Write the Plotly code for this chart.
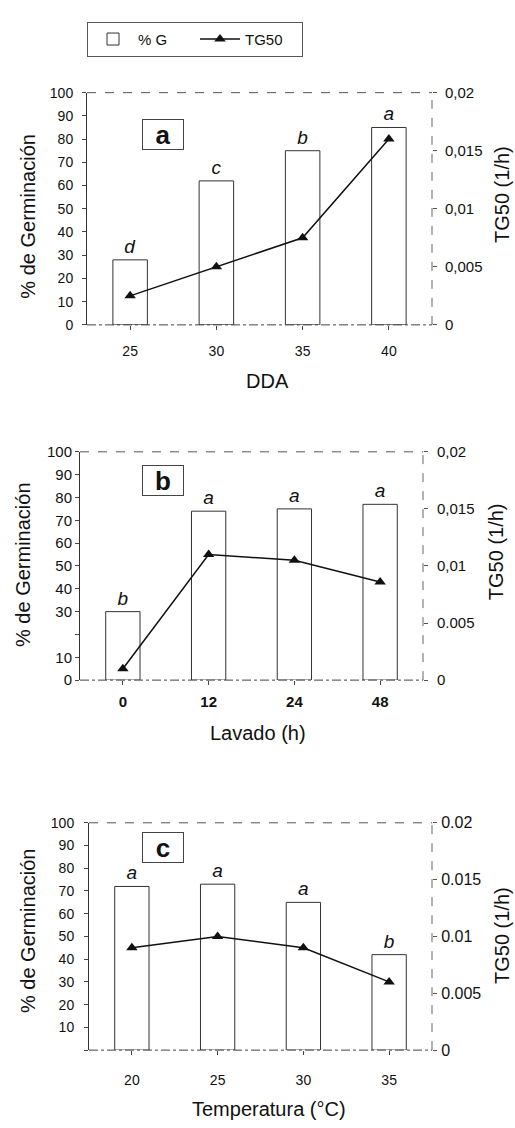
import plotly.graph_objects as go

W, H = 515, 1128

# ---------------- data ----------------
a_cats = ["25", "30", "35", "40"]
a_germ = [28, 62, 75, 85]
a_tg50 = [0.0025, 0.005, 0.0075, 0.016]
a_letters = ["d", "c", "b", "a"]

b_cats = ["0", "12", "24", "48"]
b_germ = [30, 74, 75, 77]
b_tg50 = [0.001, 0.011, 0.0105, 0.0086]
b_letters = ["b", "a", "a", "a"]

c_cats = ["20", "25", "30", "35"]
c_germ = [72, 73, 65, 42]
c_tg50 = [0.009, 0.010, 0.009, 0.006]
c_letters = ["a", "a", "a", "b"]

left_vals = [0, 10, 20, 30, 40, 50, 60, 70, 80, 90, 100]
a_left_text = ["0", "10", "20", "30", "40", "50", "60", "70", "80", "90", "100"]
b_left_text = ["0", "10", "", "30", "40", "50", "60", "70", "80", "90", "100"]
c_left_text = ["", "10", "20", "30", "40", "50", "60", "70", "80", "90", "100"]

right_vals = [0, 0.005, 0.01, 0.015, 0.02]
a_right_text = ["0", "0,005", "0,01", "0,015", "0,02"]
b_right_text = ["0", "0.005", "0,01", "0,015", "0,02"]
c_right_text = ["0", "0.005", "0.01", "0.015", "0.02"]

x_titles = ["DDA", "Lavado (h)", "Temperatura (°C)"]
panel_labels = ["a", "b", "c"]

FONT = "Liberation Sans, Arial, sans-serif"

def fx(p):
    return p / W

def fy(p):
    return 1 - p / H

# panel geometry in pixels (left, right, top, bottom)
panels = [
    dict(cats=a_cats, germ=a_germ, tg=a_tg50, let=a_letters, lt=a_left_text, rt=a_right_text,
         box=(87, 432, 85, 321), xlab_s=9, xfont=14, xbold=False, lfont=14, ls=6, rfont=15, rs=5,
         xtitle=(267, 378), ytitle=(28, 211), rtitle=(502, 189), plab=(163, 128)),
    dict(cats=b_cats, germ=b_germ, tg=b_tg50, let=b_letters, lt=b_left_text, rt=b_right_text,
         box=(80, 423, 450, 682), xlab_s=4, xfont=15, xbold=True, lfont=15, ls=0, rfont=15, rs=6,
         xtitle=(258, 736), ytitle=(23, 565), rtitle=(496, 552), plab=(163, 479)),
    dict(cats=c_cats, germ=c_germ, tg=c_tg50, let=c_letters, lt=c_left_text, rt=c_right_text,
         box=(89, 432, 827, 1058), xlab_s=13, xfont=14, xbold=False, lfont=14, ls=7, rfont=16, rs=1,
         xtitle=(269, 1118), ytitle=(28, 937), rtitle=(502, 942), plab=(163, 852)),
]

fig = go.Figure()
shapes = []
annotations = []
layout_axes = {}

for i, p in enumerate(panels):
    xn = "" if i == 0 else str(i + 1)
    yl = str(2 * i + 1) if i > 0 else ""
    yr = str(2 * i + 2)
    xref = "x" + xn
    ylref = "y" + yl
    yrref = "y" + yr
    L, R, T, B = p["box"]

    fig.add_trace(go.Bar(
        x=p["cats"], y=p["germ"], xaxis=xref, yaxis=ylref,
        name="% G", showlegend=(i == 0), width=0.4,
        marker=dict(color="white", line=dict(color="#333333", width=1)),
        text=p["let"], textposition="outside", cliponaxis=False,
        textfont=dict(family=FONT, size=19, color="#111111", style="italic"),
    ))
    fig.add_trace(go.Scatter(
        x=p["cats"], y=p["tg"], xaxis=xref, yaxis=yrref,
        name="TG50", showlegend=(i == 0), mode="lines+markers",
        line=dict(color="#111111", width=1.5),
        marker=dict(symbol="triangle-up", size=10, color="#111111"),
        cliponaxis=False,
    ))

    xa = dict(
        domain=[fx(L), fx(R)], anchor=ylref, type="category",
        range=[-0.5, 3.5], showline=False, ticks="outside", ticklen=4,
        tickcolor="#444444", showgrid=False, zeroline=False,
        ticklabelstandoff=p["xlab_s"],
        tickfont=dict(family=FONT, size=p["xfont"], color="#111111",
                      weight=("bold" if p["xbold"] else "normal")),
    )
    ya = dict(
        domain=[fy(B), fy(T)], anchor=xref, range=[0, 100],
        tickvals=left_vals, ticktext=p["lt"], ticks="outside", ticklen=4,
        tickcolor="#444444", showline=True, linecolor="#333333", linewidth=1,
        showgrid=False, zeroline=False, ticklabelstandoff=p["ls"],
        tickfont=dict(family=FONT, size=p["lfont"], color="#111111"),
    )
    yra = dict(
        overlaying=ylref, side="right", anchor=xref, range=[0, 0.02],
        tickvals=right_vals, ticktext=p["rt"], ticks="outside", ticklen=4,
        tickcolor="#555555", showline=False, showgrid=False, zeroline=False,
        ticklabelstandoff=p["rs"],
        tickfont=dict(family=FONT, size=p["rfont"], color="#111111"),
    )
    layout_axes["xaxis" + xn] = xa
    layout_axes["yaxis" + yl] = ya
    layout_axes["yaxis" + yr] = yra

    dom_x = xref + " domain"
    dom_y = ylref + " domain"
    # frame: top, right, bottom
    shapes.append(dict(type="line", xref=dom_x, yref=dom_y, x0=0, x1=1, y0=1, y1=1,
                       line=dict(color="#555555", width=1, dash="dash")))
    shapes.append(dict(type="line", xref=dom_x, yref=dom_y, x0=1, x1=1, y0=0, y1=1,
                       line=dict(color="#666666", width=1, dash="dash")))
    shapes.append(dict(type="line", xref=dom_x, yref=dom_y, x0=0, x1=1, y0=0, y1=0,
                       line=dict(color="#444444", width=1, dash="dashdot")))

    # axis titles
    annotations.append(dict(text=x_titles[i], xref="paper", yref="paper",
                            x=fx(p["xtitle"][0]), y=fy(p["xtitle"][1]),
                            xanchor="center", yanchor="middle", showarrow=False,
                            font=dict(family=FONT, size=20, color="#111111")))
    annotations.append(dict(text="% de Germinación", xref="paper", yref="paper",
                            x=fx(p["ytitle"][0]), y=fy(p["ytitle"][1]), textangle=-90,
                            xanchor="center", yanchor="middle", showarrow=False,
                            font=dict(family=FONT, size=20, color="#111111")))
    annotations.append(dict(text="TG50 (1/h)", xref="paper", yref="paper",
                            x=fx(p["rtitle"][0]), y=fy(p["rtitle"][1]), textangle=-90,
                            xanchor="center", yanchor="middle", showarrow=False,
                            font=dict(family=FONT, size=20, color="#111111")))
    # panel label
    annotations.append(dict(text="<b>%s</b>" % panel_labels[i], xref="paper", yref="paper",
                            x=fx(p["plab"][0]), y=fy(p["plab"][1]),
                            xanchor="center", yanchor="middle", showarrow=False,
                            width=38, height=27, borderpad=1,
                            bordercolor="#444444", borderwidth=1, bgcolor="white",
                            font=dict(family=FONT, size=26, color="#111111")))

fig.update_layout(
    width=W, height=H, margin=dict(l=0, r=0, t=0, b=0),
    paper_bgcolor="white", plot_bgcolor="white",
    font=dict(family=FONT, color="#111111"),
    barmode="overlay", bargap=0.6,
    showlegend=True,
    legend=dict(orientation="h", x=fx(87), y=fy(13), xanchor="left", yanchor="top",
                bordercolor="#555555", borderwidth=1, bgcolor="white",
                font=dict(family=FONT, size=15, color="#111111"),
                itemwidth=40, entrywidth=52, entrywidthmode="pixels",
                tracegroupgap=0),
    shapes=shapes, annotations=annotations,
    **layout_axes,
)

fig.write_html("out.html")
